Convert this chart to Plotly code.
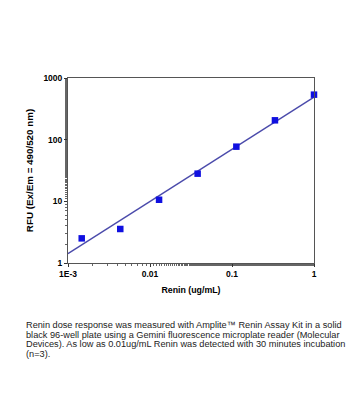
import numpy as np
import plotly.graph_objects as go

# Data
renin_ug_ml = [0.00147, 0.00434, 0.0129, 0.0381, 0.113, 0.334, 1.0]
rfu = [2.51, 3.56, 10.6, 28.1, 77, 206, 537]

# Linear fit in log-log space: log10(RFU) = fit_intercept + fit_slope * log10(x)
fit_intercept = 2.69
fit_slope = 0.846
fit_x_range = [0.001, 1.0]

x_tickvals = [0.001, 0.01, 0.1, 1]
x_ticktext = ["1E-3", "0.01", "0.1", "1"]
y_tickvals = [1, 10, 100, 1000]
y_ticktext = ["1", "10", "100", "1000"]

caption_lines = [
    "Renin dose response was measured with Amplite™ Renin Assay Kit in a solid",
    "black 96-well plate using a Gemini fluorescence microplate reader (Molecular",
    "Devices). As low as 0.01ug/mL Renin was detected with 30 minutes incubation",
    "(n=3).",
]

# page body has an 8px default margin; lay out in page pixels minus that offset
OFF = 8
W, H = 363 - OFF, 420 - OFF
L, R, T, B = 68 - OFF, 314 - OFF, 78 - OFF, 263 - OFF

fx = np.logspace(np.log10(fit_x_range[0]), np.log10(fit_x_range[1]), 50)
fy = 10 ** (fit_intercept + fit_slope * np.log10(fx))

fig = go.Figure()
fig.add_trace(go.Scatter(x=fx, y=fy, mode="lines",
                         line=dict(color="#4b4bab", width=1.3),
                         hoverinfo="skip", showlegend=False))
fig.add_trace(go.Scatter(x=renin_ug_ml, y=rfu, mode="markers",
                         marker=dict(symbol="square", size=6.5, color="#1010e0"),
                         showlegend=False, cliponaxis=False))

FONT = "Liberation Sans, Arial, sans-serif"
axis_common = dict(
    type="log", showgrid=False, zeroline=False,
    showline=True, linecolor="#555", linewidth=1, mirror=True,
    ticks="outside", ticklen=3, tickcolor="#333", tickwidth=1,
    tickfont=dict(family=FONT, size=8.5, color="#000"),
    minor=dict(ticks="outside", ticklen=2, tickcolor="#666", showgrid=False),
)
fig.update_xaxes(**axis_common, range=[-3, 0], tickvals=x_tickvals,
                 ticktext=["<b>%s</b>" % t for t in x_ticktext],
                 title=dict(text="<b>Renin (ug/mL)</b>",
                            font=dict(family=FONT, size=8.8, color="#000"), standoff=8))
fig.update_yaxes(**axis_common, range=[0, 3], tickvals=y_tickvals,
                 ticktext=["<b>%s</b>" % t for t in y_ticktext],
                 title=dict(text="<b>RFU (Ex/Em = 490/520 nm)</b>",
                            font=dict(family=FONT, size=9.8, color="#000"), standoff=7))

def px_x(p):
    return (p - OFF - L) / (R - L)

def px_y(p):
    return (B - (p - OFF)) / (B - T)

line_centers = [325, 334.5, 344, 353.5]
for txt, yc in zip(caption_lines, line_centers):
    fig.add_annotation(text=txt, xref="paper", yref="paper",
                       x=px_x(24), y=px_y(yc), xanchor="left", yanchor="middle",
                       showarrow=False,
                       font=dict(family=FONT, size=9.2, color="#222"))

fig.update_layout(width=W, height=H, margin=dict(l=L, r=W - R, t=T, b=H - B, pad=0),
                  paper_bgcolor="white", plot_bgcolor="white")

fig.write_html("out.html")
